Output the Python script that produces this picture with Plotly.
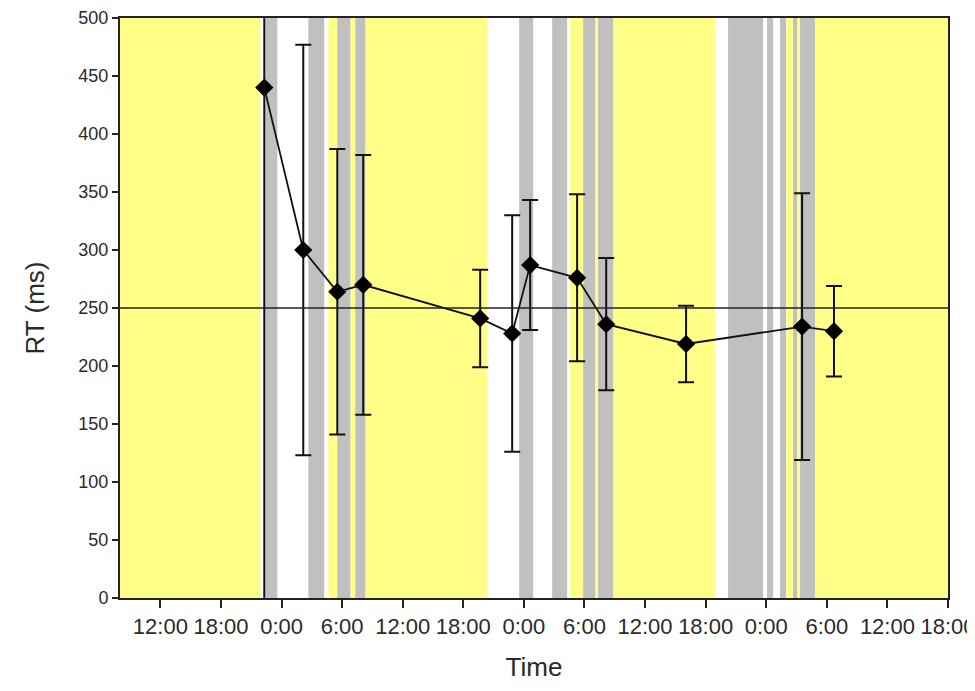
import plotly.graph_objects as go

# Data (x in hours from day-1 midnight)
times = [22.29, 26.15, 29.52, 32.09, 43.67, 46.84, 48.62, 53.27, 56.15, 64.06, 75.55, 78.71]
rt_ms = [440, 300, 264, 270, 241, 228, 287, 276, 236, 219, 234, 230]
rt_err = [0, 177, 123, 112, 42, 102, 56, 72, 57, 33, 115, 39]

threshold = 250

yellow_start = [8.0, 28.63, 30.81, 32.29, 52.58, 55.06, 56.84, 74.0, 75.05, 76.83]
yellow_end = [21.90, 29.52, 31.30, 44.37, 53.87, 55.35, 66.93, 74.66, 75.35, 90.0]
grey_start = [22.39, 26.65, 29.52, 31.30, 47.53, 50.80, 53.87, 55.35, 68.22, 72.08, 73.37, 74.66, 75.35]
grey_end = [23.58, 28.23, 30.81, 32.29, 48.92, 52.28, 55.06, 56.84, 71.69, 72.68, 73.96, 75.05, 76.83]

tick_vals = [12, 18, 24, 30, 36, 42, 48, 54, 60, 66, 72, 78, 84, 90]
tick_text = ["12:00", "18:00", "0:00", "6:00", "12:00", "18:00", "0:00",
             "6:00", "12:00", "18:00", "0:00", "6:00", "12:00", "18:00"]

y_ticks = [0, 50, 100, 150, 200, 250, 300, 350, 400, 450, 500]

x_range = [8, 90]
y_range = [0, 500]

YELLOW = "#FFFF88"
GREY = "#C0C0C0"

shapes = []
for s, e in zip(yellow_start, yellow_end):
    shapes.append(dict(type="rect", xref="x", yref="y", x0=s, x1=e, y0=y_range[0], y1=y_range[1],
                       fillcolor=YELLOW, line=dict(width=0), layer="below"))
for s, e in zip(grey_start, grey_end):
    shapes.append(dict(type="rect", xref="x", yref="y", x0=s, x1=e, y0=y_range[0], y1=y_range[1],
                       fillcolor=GREY, line=dict(width=0), layer="below"))
# vertical marker line at first measurement
shapes.append(dict(type="line", xref="x", yref="y", x0=times[0], x1=times[0], y0=y_range[0], y1=y_range[1],
                   line=dict(color="#111111", width=2)))
# horizontal threshold line
shapes.append(dict(type="line", xref="paper", yref="y", x0=0, x1=1, y0=threshold, y1=threshold,
                   line=dict(color="#222222", width=1.6)))

fig = go.Figure()
fig.add_trace(go.Scatter(
    x=times, y=rt_ms, mode="lines+markers",
    line=dict(color="#111111", width=1.8),
    marker=dict(symbol="diamond", size=14, color="#000000"),
    error_y=dict(type="data", array=rt_err, visible=True, color="#111111", thickness=2, width=8),
    showlegend=False,
))

font_family = "Liberation Sans, Arial, sans-serif"
fig.update_layout(
    width=975, height=683,
    margin=dict(l=112, r=35, t=10, b=93),
    paper_bgcolor="white", plot_bgcolor="white",
    shapes=shapes,
    font=dict(family=font_family, color="#2a2a2a"),
    xaxis=dict(range=x_range, tickvals=tick_vals, ticktext=tick_text, automargin=False,
               showgrid=False, zeroline=False, showline=True, linecolor="#222222", linewidth=2,
               mirror=True, ticks="outside", ticklen=8, tickwidth=2, tickcolor="#222222",
               tickfont=dict(size=22), title=dict(text="Time", font=dict(size=26), standoff=19)),
    yaxis=dict(range=y_range, tickvals=y_ticks, automargin=False,
               showgrid=False, zeroline=False, showline=True, linecolor="#222222", linewidth=2,
               mirror=True, ticks="outside", ticklen=6, tickwidth=2, tickcolor="#222222",
               tickfont=dict(size=18), title=dict(text="RT (ms)", font=dict(size=26), standoff=26)),
)

fig.write_html("out.html")
